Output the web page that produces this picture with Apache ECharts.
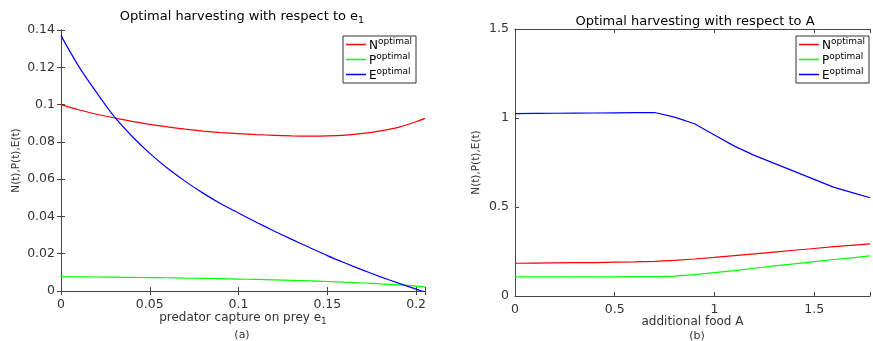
<!DOCTYPE html>
<html>
<head>
<meta charset="utf-8">
<script src="https://cdn.jsdelivr.net/npm/echarts@6/dist/echarts.min.js"></script>
<style>
  html, body { margin: 0; padding: 0; background: #fff; }
  #chart { width: 873px; height: 341px; }
</style>
</head>
<body>
<div id="chart"></div>
<script>
// panel (a): sweep over e1
var e1Values = [0, 0.01, 0.02, 0.03, 0.04, 0.05, 0.06, 0.07, 0.08, 0.09, 0.1,
                0.11, 0.12, 0.13, 0.14, 0.15, 0.16, 0.17, 0.18, 0.19, 0.2, 0.205];
var nOptA = [0.1, 0.0972, 0.0948, 0.0928, 0.091, 0.0894, 0.088, 0.0868, 0.0858, 0.085, 0.0844,
             0.0839, 0.0835, 0.0832, 0.0831, 0.0832, 0.0836, 0.0845, 0.0859, 0.0878, 0.0908, 0.0926];
var pOptA = [0.0077, 0.0076, 0.0075, 0.0074, 0.0073, 0.0072, 0.0071, 0.0069, 0.0068, 0.0066, 0.0064,
             0.0062, 0.006, 0.0057, 0.0054, 0.0051, 0.0047, 0.0043, 0.0038, 0.0033, 0.0026, 0.0021];
var eOptA = [0.137, 0.1205, 0.1065, 0.0935, 0.083, 0.0738, 0.0658, 0.0588, 0.0525, 0.0468, 0.0418,
             0.0369, 0.0322, 0.0277, 0.0233, 0.019, 0.015, 0.0112, 0.0076, 0.0042, 0.001, -0.0005];

// panel (b): sweep over additional food A
var aValues = [0, 0.1, 0.2, 0.3, 0.4, 0.5, 0.6, 0.7, 0.8, 0.9, 1.0,
               1.1, 1.2, 1.3, 1.4, 1.5, 1.6, 1.7, 1.78];
var nOptB = [0.184, 0.185, 0.186, 0.187, 0.188, 0.19, 0.192, 0.195, 0.2, 0.208, 0.217,
             0.227, 0.237, 0.247, 0.257, 0.267, 0.277, 0.286, 0.293];
var pOptB = [0.108, 0.108, 0.108, 0.108, 0.108, 0.108, 0.109, 0.109, 0.112, 0.12, 0.131,
             0.143, 0.156, 0.169, 0.181, 0.193, 0.205, 0.216, 0.225];
var eOptB = [1.025, 1.0258, 1.0266, 1.0274, 1.0282, 1.029, 1.0298, 1.031, 1.005, 0.968, 0.905,
             0.842, 0.79, 0.745, 0.7, 0.655, 0.61, 0.578, 0.552];

var FONT = 'DejaVu Sans';
var AXIS_COLOR = '#444';
var TEXT_COLOR = '#333';

function pairs(xs, ys) {
    return xs.map(function (x, i) { return [x, ys[i]]; });
}

function tickFormatter(step) {
    return function (v) {
        var k = v / step;
        if (Math.abs(k - Math.round(k)) > 1e-6) return '';
        return String(+v.toFixed(4));
    };
}

// one side of a matlab style box: ticks inside, labels optional
function axis(opt) {
    return Object.assign({
        type: 'value',
        splitLine: { show: false },
        nameMoveOverlap: false,
        axisLine: { show: true, lineStyle: { color: AXIS_COLOR, width: 1 } },
        axisTick: { show: true, inside: true, length: 4, lineStyle: { color: AXIS_COLOR } },
        axisLabel: { show: false }
    }, opt);
}

function label(step, margin) {
    return { show: true, color: TEXT_COLOR, fontSize: 12.5, fontFamily: FONT, margin: margin,
             formatter: tickFormatter(step), showMaxLabel: true, showMinLabel: true };
}

var nameStyle = {
    color: TEXT_COLOR, fontSize: 12, fontFamily: FONT,
    rich: {
        t: { fontSize: 12, fontFamily: FONT, color: TEXT_COLOR, lineHeight: 16, verticalAlign: 'middle' },
        sub: { fontSize: 9, fontFamily: FONT, color: TEXT_COLOR, lineHeight: 16, verticalAlign: 'bottom' }
    }
};

var titleRich = {
    t: { fontSize: 13, fontFamily: FONT, color: '#000', lineHeight: 18, verticalAlign: 'middle' },
    sub: { fontSize: 9.5, fontFamily: FONT, color: '#000', lineHeight: 18, verticalAlign: 'bottom' }
};

var yNameStyle = { color: TEXT_COLOR, fontSize: 10.5, fontFamily: FONT };

var legendRich = {
    b: { fontSize: 12, fontFamily: FONT, color: '#000', lineHeight: 15, verticalAlign: 'bottom' },
    s: { fontSize: 9, fontFamily: FONT, color: '#000', lineHeight: 15, verticalAlign: 'top' }
};

function legendBox(left, names) {
    return {
        orient: 'vertical', left: left, top: 36,
        data: names,
        icon: 'rect', itemWidth: 20, itemHeight: 1.5, itemGap: 0,
        padding: [1, 4, 1, 3],
        borderColor: '#333', borderWidth: 1, borderRadius: 0,
        backgroundColor: '#fff',
        selectedMode: false,
        textStyle: { rich: legendRich, padding: [0, 0, 0, -2] },
        formatter: function (name) { return '{b|' + name.charAt(0) + '}{s|optimal}'; }
    };
}

var chart = echarts.init(document.getElementById('chart'));

var option = {
    animation: false,
    backgroundColor: '#fff',
    grid: [
        { left: 61, top: 30, width: 364, height: 261 },
        { left: 515, top: 29, width: 358, height: 267 }
    ],
    xAxis: [
        axis({ gridIndex: 0, min: 0, max: 0.205, interval: 0.05, position: 'bottom',
               axisLabel: label(0.05, 7),
               name: '{t|predator capture on prey e}{sub|1}', nameLocation: 'middle', nameGap: 19,
               nameTextStyle: nameStyle }),
        axis({ gridIndex: 0, min: 0, max: 0.205, interval: 0.05, position: 'top' }),
        axis({ gridIndex: 1, min: 0, max: 1.78, interval: 0.5, position: 'bottom',
               axisLabel: label(0.5, 7),
               name: 'additional food A', nameLocation: 'middle', nameGap: 20,
               nameTextStyle: nameStyle }),
        axis({ gridIndex: 1, min: 0, max: 1.78, interval: 0.5, position: 'top' })
    ],
    yAxis: [
        axis({ gridIndex: 0, min: 0, max: 0.14, interval: 0.02, position: 'left',
               axisLabel: label(0.02, 6),
               name: 'N(t),P(t),E(t)', nameLocation: 'middle', nameGap: 39,
               nameTextStyle: yNameStyle }),
        axis({ gridIndex: 0, min: 0, max: 0.14, interval: 0.02, position: 'right' }),
        axis({ gridIndex: 1, min: 0, max: 1.5, interval: 0.5, position: 'left',
               axisLabel: label(0.5, 6),
               name: 'N(t),P(t),E(t)', nameLocation: 'middle', nameGap: 33,
               nameTextStyle: yNameStyle })
    ],
    legend: [
        legendBox(343, ['Na', 'Pa', 'Ea']),
        legendBox(796, ['Nb', 'Pb', 'Eb'])
    ],
    graphic: [
        { type: 'text', x: 242, y: 17, style: {
            text: '{t|Optimal harvesting with respect to e}{sub|1}',
            align: 'center', verticalAlign: 'middle', rich: titleRich } },
        { type: 'text', x: 695, y: 22, style: {
            text: '{t|Optimal harvesting with respect to A}',
            align: 'center', verticalAlign: 'middle', rich: titleRich } },
        { type: 'text', x: 242, y: 335, style: {
            text: '(a)', fill: TEXT_COLOR, fontSize: 11, fontFamily: FONT,
            align: 'center', verticalAlign: 'middle' } },
        { type: 'text', x: 697, y: 336, style: {
            text: '(b)', fill: TEXT_COLOR, fontSize: 11, fontFamily: FONT,
            align: 'center', verticalAlign: 'middle' } }
    ],
    series: [
        { name: 'Na', type: 'line', xAxisIndex: 0, yAxisIndex: 0, data: pairs(e1Values, nOptA) },
        { name: 'Pa', type: 'line', xAxisIndex: 0, yAxisIndex: 0, data: pairs(e1Values, pOptA) },
        { name: 'Ea', type: 'line', xAxisIndex: 0, yAxisIndex: 0, data: pairs(e1Values, eOptA) },
        { name: 'Nb', type: 'line', xAxisIndex: 2, yAxisIndex: 2, data: pairs(aValues, nOptB) },
        { name: 'Pb', type: 'line', xAxisIndex: 2, yAxisIndex: 2, data: pairs(aValues, pOptB) },
        { name: 'Eb', type: 'line', xAxisIndex: 2, yAxisIndex: 2, data: pairs(aValues, eOptB) }
    ].map(function (s) {
        var c = { N: '#ff0000', P: '#00ff00', E: '#0000ff' }[s.name.charAt(0)];
        return Object.assign(s, {
            showSymbol: false, symbol: 'none', clip: true,
            smooth: s.xAxisIndex === 0 ? 0.3 : false,
            color: c, lineStyle: { color: c, width: 1.2 }
        });
    })
};

chart.setOption(option);
</script>
</body>
</html>
